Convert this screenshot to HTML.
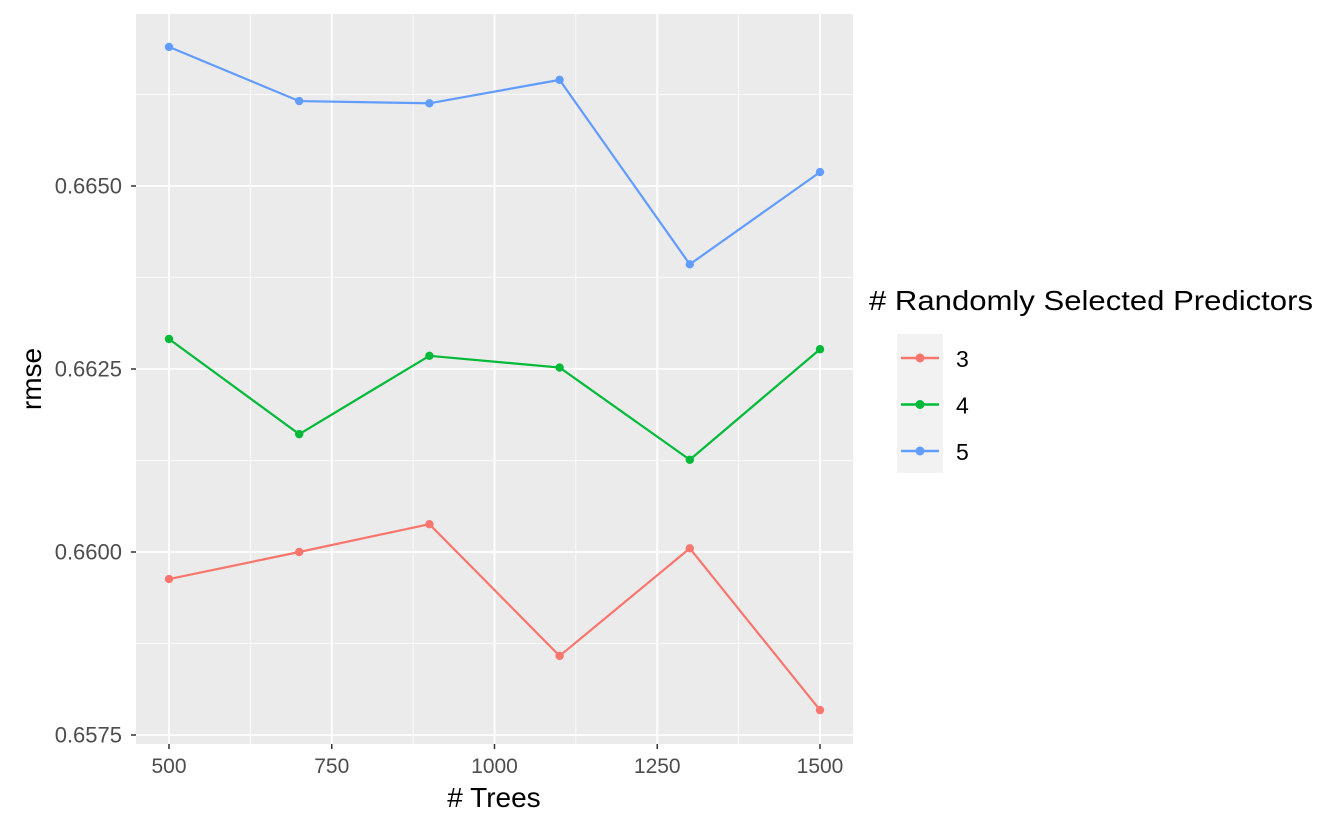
<!DOCTYPE html>
<html><head><meta charset="utf-8"><style>
body{margin:0;background:#fff;}
svg{display:block;font-family:"Liberation Sans",sans-serif;}
</style></head><body>
<svg id="chart" width="1344" height="830"></svg>
<script>
const xValues=[500,700,900,1100,1300,1500];
const seriesNames=["3","4","5"];
const series3=[0.65963,0.66000,0.66038,0.65858,0.66005,0.65784];
const series4=[0.66291,0.66161,0.66268,0.66252,0.66126,0.66277];
const series5=[0.66690,0.66616,0.66613,0.66645,0.66393,0.66519];
const xTicks=[500,750,1000,1250,1500];
const yTicks=[0.6575,0.6600,0.6625,0.6650];
const colors=["#F8766D","#00BA38","#619CFF"];
const allSeries=[series3,series4,series5];
const NS="http://www.w3.org/2000/svg";
const svg=document.getElementById('chart');
const L=136,R=853,T=14,B=744;
function sx(v){return 169+(v-500)*(162.75/250);}
function sy(v){return 186-(v-0.6650)*(183/0.0025);}
function mk(tag,attrs,parent){const e=document.createElementNS(NS,tag);for(const k in attrs)e.setAttribute(k,attrs[k]);(parent||svg).appendChild(e);return e;}
const bg=mk('rect',{x:L,y:T,width:R-L,height:B-T,fill:'#EBEBEB'});


for(let i=0;i<xTicks.length-1;i++){const x=sx((xTicks[i]+xTicks[i+1])/2);mk('line',{x1:x,x2:x,y1:T,y2:B,stroke:'#fff','stroke-width':0.8});}
[0.65625,0.65875,0.66125,0.66375,0.66625].forEach(v=>{const y=sy(v);if(y>T&&y<B)mk('line',{x1:L,x2:R,y1:y,y2:y,stroke:'#fff','stroke-width':0.8});});
xTicks.forEach(v=>{const x=sx(v);
 const g=mk('line',{x1:x,x2:x,y1:T,y2:B,stroke:'#fff','stroke-width':1.8});
 
 mk('line',{x1:x,x2:x,y1:B,y2:B+5,stroke:'#333','stroke-width':1.5});
 const t=mk('text',{x:x,y:773,'text-anchor':'middle','font-size':21,fill:'#4D4D4D'});t.textContent=v;
 });
yTicks.forEach(v=>{const y=sy(v);
 const g=mk('line',{x1:L,x2:R,y1:y,y2:y,stroke:'#fff','stroke-width':1.8});
 
 mk('line',{x1:L-5,x2:L,y1:y,y2:y,stroke:'#333','stroke-width':1.5});
 const t=mk('text',{x:122,y:y+7.5,'text-anchor':'end','font-size':22,fill:'#4D4D4D'});t.textContent=v.toFixed(4);
 });
allSeries.forEach((s,i)=>{
 const pts=s.map((v,j)=>sx(xValues[j])+','+sy(v)).join(' ');
 const pl=mk('polyline',{points:pts,fill:'none',stroke:colors[i],'stroke-width':2.2});
 
 s.forEach((v,j)=>{const c=mk('circle',{cx:sx(xValues[j]),cy:sy(v),r:4.2,fill:colors[i]});
  });
});
let t=mk('text',{x:494,y:807,'text-anchor':'middle','font-size':28,fill:'#000'});t.textContent='# Trees';

t=mk('text',{x:0,y:0,'text-anchor':'middle','font-size':28,fill:'#000',transform:'translate(41,379) rotate(-90)'});t.textContent='rmse';

t=mk('text',{x:869,y:310,'font-size':28,fill:'#000',textLength:444,lengthAdjust:'spacingAndGlyphs'});t.textContent='# Randomly Selected Predictors';

const kb=mk('rect',{x:897,y:334,width:46,height:139,fill:'#F2F2F2'});

seriesNames.forEach((n,i)=>{const y=358+i*46.5;
 mk('line',{x1:901,x2:939,y1:y,y2:y,stroke:colors[i],'stroke-width':2.5});
 mk('circle',{cx:920,cy:y,r:4.5,fill:colors[i]});
 const lt=mk('text',{x:956,y:y+9,'font-size':23,fill:'#000'});lt.textContent=n;
 });
</script>
</body></html>
